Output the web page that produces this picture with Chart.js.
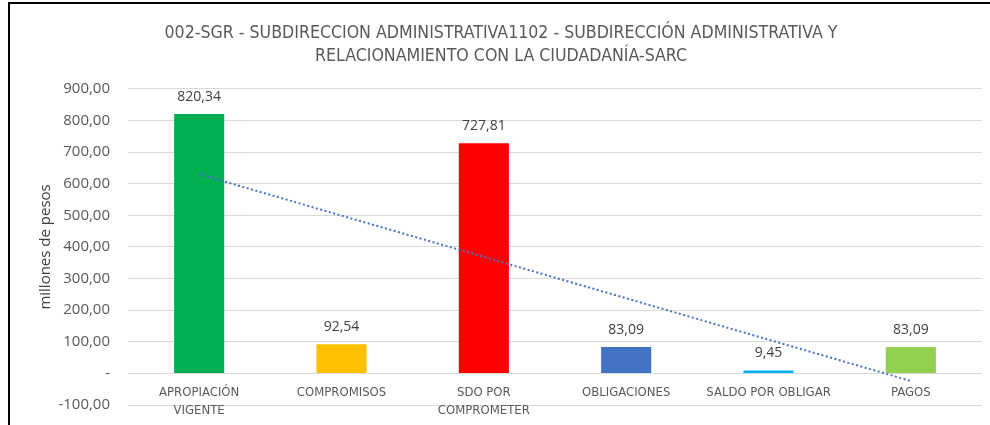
<!DOCTYPE html>
<html lang="es">
<head>
  <meta charset="UTF-8" />
  <title>002-SGR - Subdirección Administrativa</title>
  <script src="https://cdn.jsdelivr.net/npm/chart.js"></script>
  <style>
    * {
      box-sizing: border-box;
      margin: 0;
      padding: 0;
    }

    body {
      background: #ffffff;
      width: 990px;
      height: 425px;
      overflow: hidden;
    }

    .wrap {
      position: absolute;
      left: 0;
      top: 0;
      width: 990px;
      height: 425px;
      overflow: hidden;
    }

    .line-top {
      position: absolute;
      left: 8px;
      top: 2px;
      width: 982px;
      height: 2px;
      background: #000;
    }

    .line-left {
      position: absolute;
      left: 8px;
      top: 2px;
      width: 2px;
      height: 423px;
      background: #000;
    }
  </style>
</head>
<body>
  <div class="wrap">
    <!-- a bit taller than the window: the positioned x axis keeps a fixed gap at the bottom -->
    <canvas id="budgetChart" width="990" height="432"></canvas>
  </div>
  <div class="line-top"></div>
  <div class="line-left"></div>

  <script>
    const categories = [
      ['APROPIACIÓN', 'VIGENTE'],
      'COMPROMISOS',
      ['SDO POR', 'COMPROMETER'],
      'OBLIGACIONES',
      'SALDO POR OBLIGAR',
      'PAGOS'
    ];
    const values = [820.34, 92.54, 727.81, 83.09, 9.45, 83.09];
    const barColors = ['#00B050', '#FFC000', '#FF0000', '#4472C4', '#00B0F0', '#92D050'];
    // trend line ends (first and last category)
    const trendline = [630, null, null, null, null, -24];
    const titleLines = [
      '002-SGR - SUBDIRECCION ADMINISTRATIVA1102 - SUBDIRECCIÓN ADMINISTRATIVA Y',
      'RELACIONAMIENTO CON LA CIUDADANÍA-SARC'
    ];

    const narrow = "'Liberation Sans Narrow', 'DejaVu Sans Condensed', sans-serif";
    const plain = "'Open Sans', 'Noto Sans', sans-serif";

    function fmt(v) {
      return v.toFixed(2).replace('.', ',');
    }

    // value above each bar
    const barLabels = {
      id: 'barLabels',
      afterDatasetsDraw(chart) {
        const ctx = chart.ctx;
        const meta = chart.getDatasetMeta(0);
        ctx.save();
        ctx.font = '14px ' + plain;
        ctx.fillStyle = '#404040';
        ctx.textAlign = 'center';
        ctx.textBaseline = 'middle';
        meta.data.forEach((bar, i) => {
          ctx.fillText(fmt(values[i]), bar.x, bar.y - 17);
        });
        ctx.restore();
      }
    };

    const ctx = document.getElementById('budgetChart').getContext('2d');
    const chart = new Chart(ctx, {
      type: 'bar',
      data: {
        labels: categories,
        datasets: [{
          type: 'bar',
          data: values,
          backgroundColor: barColors,
          borderWidth: 0,
          categoryPercentage: 1,
          barPercentage: 0.352,
          order: 2
        }, {
          type: 'line',
          data: trendline,
          spanGaps: true,
          borderColor: '#4472C4',
          borderWidth: 2,
          borderDash: [2, 2.5],
          pointRadius: 0,
          fill: false,
          order: 1
        }]
      },
      options: {
        responsive: false,
        animation: false,
        layout: {
          padding: { left: 20, right: 8, top: 21, bottom: 14 }
        },
        plugins: {
          legend: { display: false },
          tooltip: { enabled: false },
          title: {
            display: true,
            text: titleLines,
            color: '#595959',
            font: { family: narrow, size: 17.6, weight: 'normal', lineHeight: 1.36 },
            padding: { top: 0, bottom: 20 }
          }
        },
        scales: {
          x: {
            position: { y: 0 },
            afterFit(scale) { scale.height = 0; },
            grid: { display: false },
            border: { display: false },
            ticks: {
              color: '#595959',
              font: { family: narrow, size: 13, lineHeight: 1.4 },
              padding: 2,
              maxRotation: 0,
              autoSkip: false
            }
          },
          y: {
            min: -100,
            max: 900,
            afterFit(scale) { scale.width = 108; },
            grid: { color: '#D9D9D9', lineWidth: 1, drawTicks: false },
            border: { display: false },
            ticks: {
              stepSize: 100,
              padding: 18,
              color: '#595959',
              font: { family: plain, size: 15 },
              callback: v => (v === 0 ? '-' : fmt(v))
            },
            title: {
              display: true,
              text: 'millones de pesos',
              color: '#404040',
              font: { family: plain, size: 15 },
              padding: { top: 17, bottom: 0 }
            }
          }
        }
      },
      plugins: [barLabels]
    });
  </script>
</body>
</html>
